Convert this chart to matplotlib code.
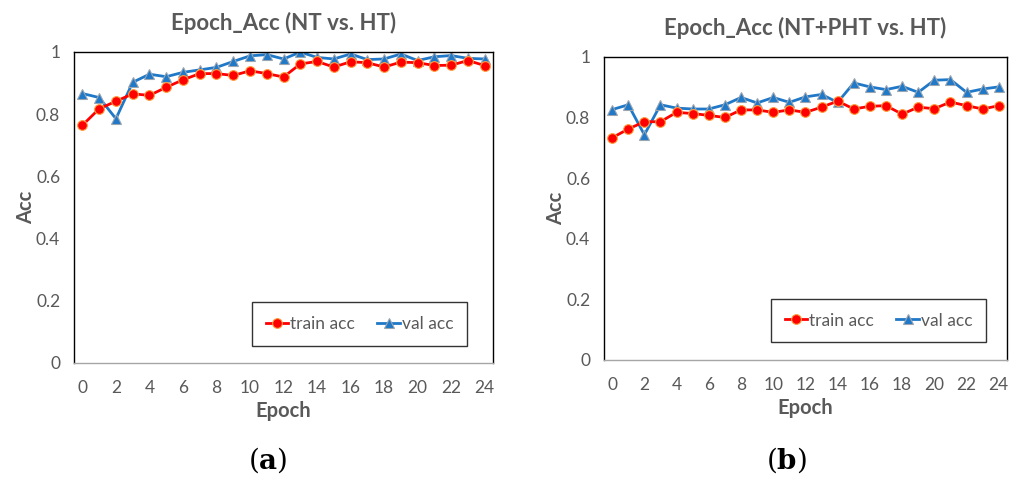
import matplotlib.pyplot as plt

epochs = list(range(25))

train_a = [0.764, 0.817, 0.841, 0.865, 0.860, 0.886, 0.910, 0.930, 0.930, 0.924,
           0.939, 0.930, 0.919, 0.961, 0.969, 0.951, 0.968, 0.965, 0.951, 0.967,
           0.965, 0.956, 0.957, 0.972, 0.956]
val_a = [0.866, 0.853, 0.785, 0.902, 0.928, 0.920, 0.934, 0.942, 0.950, 0.969,
         0.987, 0.991, 0.977, 0.999, 0.982, 0.977, 0.993, 0.975, 0.977, 0.993,
         0.972, 0.984, 0.988, 0.979, 0.977]

train_b = [0.733, 0.762, 0.786, 0.786, 0.817, 0.813, 0.807, 0.800, 0.825, 0.825,
           0.817, 0.825, 0.817, 0.834, 0.854, 0.828, 0.837, 0.839, 0.811, 0.834,
           0.829, 0.851, 0.839, 0.828, 0.839]
val_b = [0.826, 0.842, 0.743, 0.842, 0.831, 0.828, 0.828, 0.842, 0.866, 0.848,
         0.866, 0.850, 0.868, 0.876, 0.850, 0.914, 0.901, 0.892, 0.903, 0.883,
         0.923, 0.925, 0.883, 0.894, 0.901]

titles = ["Epoch_Acc (NT vs. HT)", "Epoch_Acc (NT+PHT vs. HT)"]

plt.rcParams["font.family"] = ["Lato", "DejaVu Sans"]
plt.rcParams["mathtext.fontset"] = "dejavuserif"
gris = "#595959"

fig = plt.figure(figsize=(10.17, 4.78), dpi=100)
ax1 = fig.add_axes([0.0728, 0.2406, 0.412, 0.651])
ax2 = fig.add_axes([0.594, 0.247, 0.396, 0.634])

leg_pos = [(0.681, 0.126), (0.681, 0.130)]

for ax, tr, va, titulo, pos in zip([ax1, ax2], [train_a, train_b], [val_a, val_b], titles, leg_pos):
    ax.plot(epochs, tr, color="#ff0000", linewidth=2, marker="o", markersize=7,
            markerfacecolor="#ff0000", markeredgecolor="#ffa040", markeredgewidth=0.8,
            label="train acc", zorder=3)
    ax.plot(epochs, va, color="#1f78c8", linewidth=2, marker="^", markersize=7.5,
            markerfacecolor="#1f78c8", markeredgecolor="#9aa5b1", markeredgewidth=0.8,
            label="val acc", zorder=2)
    ax.set_xlim(-0.5, 24.5)
    ax.set_ylim(0, 1)
    ax.set_xticks(range(0, 25, 2))
    ax.set_yticks([0, 0.2, 0.4, 0.6, 0.8, 1.0])
    ax.set_yticklabels(["0", "0.2", "0.4", "0.6", "0.8", "1"])
    ax.tick_params(length=0, labelsize=12.5, colors=gris)
    ax.tick_params(axis="x", pad=12)
    ax.tick_params(axis="y", pad=10)
    for s in ax.spines.values():
        s.set_color("black")
        s.set_linewidth(1)
    ax.spines["bottom"].set_color("#a6a6a6")
    ax.set_title(titulo, fontsize=16, fontweight="bold", color=gris, pad=16)
    ax.set_xlabel("Epoch", fontsize=14.5, fontweight="bold", color=gris, labelpad=4)
    ax.set_ylabel("Acc", fontsize=14.5, fontweight="bold", color=gris, labelpad=0)
    leg = ax.legend(loc="center", bbox_to_anchor=pos, ncol=2, fontsize=12.5,
                    frameon=True, fancybox=False, borderpad=0.8, borderaxespad=0,
                    handlelength=1.3, handletextpad=0.1, columnspacing=1.3)
    leg.get_frame().set_edgecolor("black")
    leg.get_frame().set_linewidth(1)
    for t in leg.get_texts():
        t.set_color(gris)

fig.text(0.263, 0.02, r"($\mathbf{a}$)", ha="center", fontsize=20, family="DejaVu Serif")
fig.text(0.773, 0.02, r"($\mathbf{b}$)", ha="center", fontsize=20, family="DejaVu Serif")

plt.savefig("out.png", dpi=100)
plt.close()
